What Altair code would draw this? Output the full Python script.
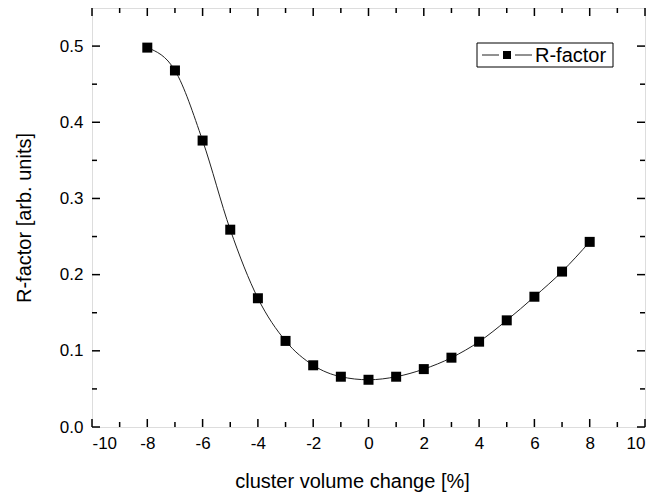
import altair as alt
import pandas as pd

# ---- data ----
volume_change = [-8, -7, -6, -5, -4, -3, -2, -1, 0, 1, 2, 3, 4, 5, 6, 7, 8]
r_factor = [0.498, 0.468, 0.376, 0.259, 0.169, 0.113, 0.081, 0.066, 0.062,
            0.066, 0.076, 0.091, 0.112, 0.140, 0.171, 0.204, 0.243]
x_major = [-10, -8, -6, -4, -2, 0, 2, 4, 6, 8, 10]
x_minor = [-9, -7, -5, -3, -1, 1, 3, 5, 7, 9]
y_major = [0.0, 0.1, 0.2, 0.3, 0.4, 0.5]
y_minor = [0.05, 0.15, 0.25, 0.35, 0.45]
series_name = ["R-factor"]

W, H = 553, 419
FONT = "Liberation Sans"

df = pd.DataFrame({"x": volume_change, "r": r_factor})
xs = alt.Scale(domain=[-10, 10], nice=False, zero=False)
ys = alt.Scale(domain=[0, 0.55], nice=False, zero=False)

x_axis = alt.Axis(values=x_major, ticks=False, domain=False, grid=False,
                  labelFontSize=17, labelFont=FONT, labelColor="black", labelPadding=8,
                  labelExpr="replace(datum.label, '\u2212', '-')",
                  title="cluster volume change [%]", titleFont=FONT, titleFontSize=20,
                  titleFontWeight="normal", titleColor="black", titlePadding=20,
                  titleX=260, titleAnchor="middle",
                  format="d")
y_axis = alt.Axis(values=y_major, ticks=False, domain=False, grid=False,
                  labelFontSize=17, labelFont=FONT, labelColor="black", labelPadding=9,
                  format=".1f",
                  title="R-factor [arb. units]", titleFont=FONT, titleFontSize=20,
                  titleFontWeight="normal", titleColor="black", titlePadding=25)

base = alt.Chart(df)
line = base.mark_line(color="#222222", strokeWidth=1, interpolate="monotone").encode(
    x=alt.X("x:Q", scale=xs, axis=x_axis),
    y=alt.Y("r:Q", scale=ys, axis=y_axis),
)
points = base.mark_square(size=100, color="black", opacity=1).encode(
    x=alt.X("x:Q", scale=xs, axis=x_axis),
    y=alt.Y("r:Q", scale=ys, axis=y_axis),
)

def xticks(vals, length):
    d = alt.Chart(pd.DataFrame({"v": vals}))
    bottom = d.mark_rule(color="black", strokeWidth=1.5).encode(
        x=alt.X("v:Q", scale=xs, axis=x_axis), y=alt.value(H), y2=alt.value(H - length))
    top = d.mark_rule(color="black", strokeWidth=1.5).encode(
        x=alt.X("v:Q", scale=xs, axis=x_axis), y=alt.value(0), y2=alt.value(length))
    return [bottom, top]

def yticks(vals, length):
    d = alt.Chart(pd.DataFrame({"v": vals}))
    left = d.mark_rule(color="black", strokeWidth=1.5).encode(
        y=alt.Y("v:Q", scale=ys, axis=y_axis), x=alt.value(0), x2=alt.value(length))
    right = d.mark_rule(color="black", strokeWidth=1.5).encode(
        y=alt.Y("v:Q", scale=ys, axis=y_axis), x=alt.value(W), x2=alt.value(W - length))
    return [left, right]

tick_layers = xticks(x_major, 8) + xticks(x_minor, 5) + yticks(y_major, 8) + yticks(y_minor, 5)

# ---- legend ----
leg = alt.Chart(pd.DataFrame({"label": series_name}))
leg_box = leg.mark_rect(fill="white", stroke="black", strokeWidth=1).encode(
    x=alt.value(385), x2=alt.value(521), y=alt.value(35), y2=alt.value(59))
leg_l1 = leg.mark_rule(color="#222222", strokeWidth=1).encode(
    x=alt.value(390), x2=alt.value(407), y=alt.value(47))
leg_l2 = leg.mark_rule(color="#222222", strokeWidth=1).encode(
    x=alt.value(423), x2=alt.value(440), y=alt.value(47))
leg_sq = leg.mark_square(size=64, color="black", opacity=1).encode(
    x=alt.value(415), y=alt.value(47))
leg_txt = leg.mark_text(align="left", baseline="middle", font=FONT, fontSize=20,
                        color="black").encode(
    x=alt.value(443), y=alt.value(48), text="label:N")

chart = alt.layer(line, points, *tick_layers, leg_box, leg_l1, leg_l2, leg_sq, leg_txt).properties(
    width=W, height=H,
    autosize=alt.AutoSizeParams(type="none"),
    padding={"left": 92, "top": 8, "right": 24, "bottom": 66},
).configure_view(stroke="black", strokeWidth=2).configure(background="white")

chart.save("out.html", embed_options={"renderer": "svg", "actions": False})
